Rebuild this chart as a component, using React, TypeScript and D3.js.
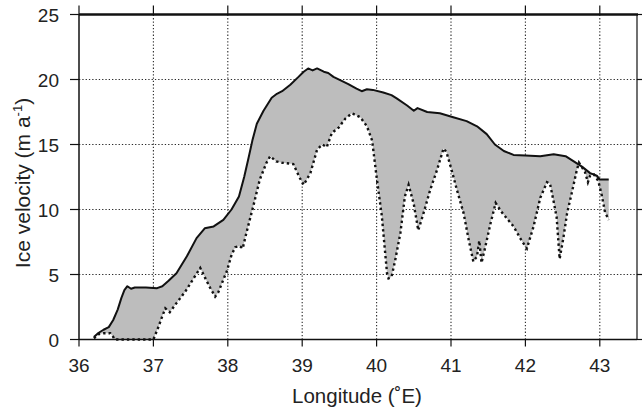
import React from 'react'
import * as d3 from 'd3'

// upper (solid) curve: longitude / ice velocity
const upperLon = [36.20, 36.26, 36.33, 36.40, 36.46, 36.52, 36.57, 36.61, 36.65, 36.70, 36.75, 36.90, 37.05, 37.12, 37.20, 37.31, 37.45, 37.58, 37.69, 37.81, 37.94, 38.05, 38.15, 38.22, 38.28, 38.33, 38.39, 38.48, 38.59, 38.66, 38.73, 38.84, 38.95, 39.02, 39.08, 39.14, 39.20, 39.29, 39.35, 39.42, 39.51, 39.62, 39.73, 39.80, 39.87, 39.95, 40.09, 40.20, 40.27, 40.41, 40.50, 40.55, 40.68, 40.85, 41.03, 41.21, 41.35, 41.48, 41.59, 41.71, 41.84, 42.00, 42.20, 42.38, 42.54, 42.65, 42.76, 42.87, 42.96, 43.00, 43.12]
const upperVel = [0.2, 0.5, 0.75, 0.95, 1.5, 2.3, 3.2, 3.8, 4.1, 3.9, 4.0, 4.0, 3.95, 4.1, 4.5, 5.1, 6.4, 7.8, 8.55, 8.7, 9.2, 10.0, 11.0, 12.5, 14.0, 15.3, 16.6, 17.6, 18.6, 18.9, 19.1, 19.6, 20.2, 20.6, 20.85, 20.7, 20.85, 20.6, 20.5, 20.2, 19.95, 19.65, 19.3, 19.1, 19.25, 19.2, 19.0, 18.8, 18.55, 18.0, 17.6, 17.8, 17.5, 17.4, 17.1, 16.8, 16.4, 15.8, 15.0, 14.5, 14.2, 14.15, 14.1, 14.25, 14.1, 13.7, 13.3, 12.8, 12.6, 12.3, 12.3]

// lower (dotted) curve
const lowerLon = [36.20, 36.28, 36.33, 36.42, 36.46, 36.48, 37.00, 37.07, 37.12, 37.16, 37.22, 37.31, 37.43, 37.54, 37.63, 37.69, 37.76, 37.83, 37.87, 37.94, 37.99, 38.05, 38.10, 38.16, 38.20, 38.25, 38.34, 38.43, 38.52, 38.57, 38.65, 38.73, 38.88, 38.97, 39.02, 39.11, 39.20, 39.27, 39.33, 39.40, 39.49, 39.58, 39.67, 39.78, 39.87, 39.94, 40.00, 40.07, 40.14, 40.16, 40.20, 40.25, 40.32, 40.38, 40.43, 40.50, 40.56, 40.63, 40.72, 40.81, 40.90, 40.94, 41.01, 41.08, 41.12, 41.17, 41.24, 41.30, 41.35, 41.38, 41.41, 41.46, 41.53, 41.60, 41.68, 41.84, 41.95, 42.02, 42.11, 42.20, 42.29, 42.33, 42.38, 42.42, 42.46, 42.51, 42.56, 42.62, 42.69, 42.72, 42.80, 42.84, 42.87, 42.92, 42.98, 43.03, 43.07, 43.12]
const lowerVel = [0.1, 0.45, 0.48, 0.48, 0.2, 0.0, 0.0, 1.0, 1.8, 2.4, 2.1, 2.8, 3.7, 4.7, 5.5, 4.8, 4.0, 3.3, 3.6, 4.6, 5.3, 6.5, 7.1, 7.2, 7.0, 8.2, 10.2, 12.3, 13.6, 14.1, 13.7, 13.6, 13.5, 12.4, 11.9, 12.8, 14.6, 15.0, 14.8, 15.9, 16.3, 17.0, 17.4, 17.1, 16.4, 15.3, 12.5, 9.5, 5.1, 4.7, 4.8, 6.1, 8.2, 11.0, 11.9, 10.4, 8.4, 9.7, 11.5, 13.0, 14.7, 14.4, 13.0, 11.5, 10.7, 9.7, 7.6, 6.0, 6.4, 7.6, 5.9, 7.1, 8.9, 10.5, 9.8, 8.7, 7.6, 7.0, 8.7, 10.9, 12.1, 12.0, 10.6, 9.4, 6.2, 7.8, 9.7, 11.2, 13.0, 13.6, 12.9, 12.1, 12.6, 12.7, 12.2, 11.0, 9.8, 9.2]

const xTicks = [36, 37, 38, 39, 40, 41, 42, 43]
const yTicks = [0, 5, 10, 15, 20, 25]

const FONT = 'Liberation Sans, Arial, Helvetica, sans-serif'

export default function App() {
  const width = 642
  const height = 410

  const x = d3.scaleLinear().domain([36, 43.5]).range([79, 637])
  const y = d3.scaleLinear().domain([0, 25]).range([339.5, 14.5])
  const [x0, x1] = x.range()
  const [y0, y1] = y.range()

  const upper: [number, number][] = upperLon.map((d, i) => [d, upperVel[i]])
  const lower: [number, number][] = lowerLon.map((d, i) => [d, lowerVel[i]])

  const line = d3
    .line<[number, number]>()
    .x((d) => x(d[0]))
    .y((d) => y(d[1]))

  // polygon: along the upper curve, then back along the lower one
  const band = line(upper.concat(lower.slice().reverse())) + 'Z'

  return (
    <svg
      width={width}
      height={height}
      style={{ position: 'absolute', left: 0, top: 0, background: '#fff' }}
    >
      {/* grid */}
      <g stroke="#2a2a2a" strokeWidth={1.1} strokeDasharray="1.3,2">
        {xTicks.slice(1).map((t) => (
          <line key={'gx' + t} x1={x(t)} x2={x(t)} y1={y0} y2={y1} />
        ))}
        {yTicks.slice(1, -1).map((t) => (
          <line key={'gy' + t} x1={x0} x2={x1} y1={y(t)} y2={y(t)} />
        ))}
      </g>

      <path d={band} fill="#bdbdbd" stroke="none" />
      <path d={line(upper) || ''} fill="none" stroke="#111" strokeWidth={2} strokeLinejoin="round" />
      <path d={line(lower) || ''} fill="none" stroke="#111" strokeWidth={2.4} strokeDasharray="2.4,3" />

      {/* frame */}
      <line x1={x0} x2={x0} y1={y0} y2={y1} stroke="#111" strokeWidth={1.5} />
      <line x1={x0} x2={x1} y1={y0} y2={y0} stroke="#111" strokeWidth={1.5} />
      <line x1={x0} x2={x1 + 1} y1={y1} y2={y1} stroke="#111" strokeWidth={2.4} />
      <line x1={x1} x2={x1} y1={y0} y2={y1} stroke="#111" strokeWidth={1.2} />

      {/* ticks */}
      <g stroke="#111" strokeWidth={1.2}>
        {xTicks.map((t) => (
          <line key={'bt' + t} x1={x(t)} x2={x(t)} y1={y0} y2={y0 + 7} />
        ))}
        {xTicks.map((t) => (
          <line key={'tt' + t} x1={x(t)} x2={x(t)} y1={y1} y2={y1 - 9} />
        ))}
        {yTicks.map((t) => (
          <line key={'lt' + t} x1={x0} x2={x0 - 9} y1={y(t)} y2={y(t)} />
        ))}
        {yTicks.map((t) => (
          <line key={'rt' + t} x1={x1} x2={x1 + 6} y1={y(t)} y2={y(t)} />
        ))}
      </g>

      {/* tick labels */}
      <g fontFamily={FONT} fontSize={19} fill="#222">
        {xTicks.map((t) => (
          <text key={'xl' + t} x={x(t)} y={372} textAnchor="middle">
            {t}
          </text>
        ))}
        {yTicks.map((t) => (
          <text key={'yl' + t} x={59} y={y(t) + 7} textAnchor="end">
            {t}
          </text>
        ))}
      </g>

      {/* axis titles */}
      <text x={357} y={403} textAnchor="middle" fontFamily={FONT} fontSize={20.5} fill="#222">
        Longitude (˚E)
      </text>
      <text
        transform="translate(30,183) rotate(-90)"
        textAnchor="middle"
        fontFamily={FONT}
        fontSize={21}
        fill="#222"
      >
        Ice velocity (m a
        <tspan fontSize={13} dy={-8}>-1</tspan>
        <tspan dy={8}>)</tspan>
      </text>
    </svg>
  )
}
